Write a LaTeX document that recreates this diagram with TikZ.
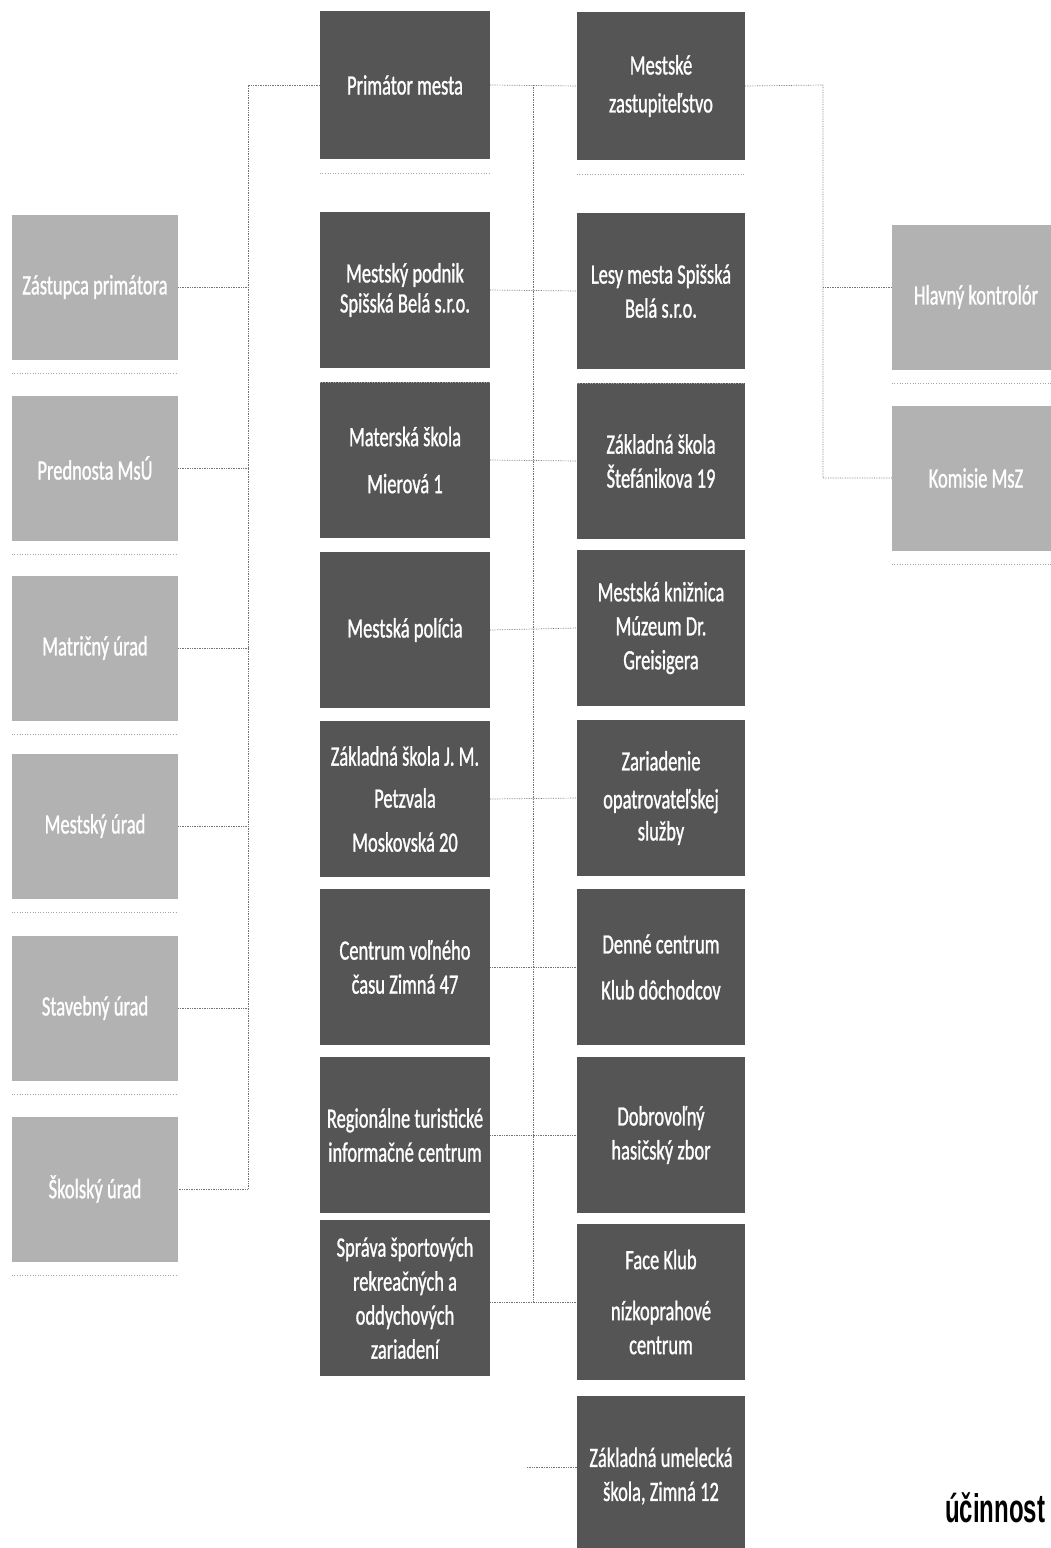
\documentclass[tikz,border=0pt]{standalone}
\usepackage{fontspec}
\setmainfont{Carlito}
\newfontfamily\boxfont[FakeStretch=0.66,FakeBold=1]{Carlito}
\newfontfamily\notefont[FakeStretch=0.6]{Liberation Sans}
\usepackage{tikz}
\usetikzlibrary{calc,positioning}
\definecolor{darkfill}{HTML}{555555}
\definecolor{lightfill}{HTML}{B2B2B2}
\tikzstyle{darkbox}   = [rectangle, fill=darkfill, text=white, minimum width=170pt, minimum height=156pt, inner sep=0pt, align=center, font=\boxfont\fontsize{28}{34}\selectfont]
\tikzstyle{lightbox}  = [rectangle, fill=lightfill, text=white, minimum width=166pt, minimum height=145pt, inner sep=0pt, align=center, font=\boxfont\fontsize{28}{34}\selectfont]
\tikzstyle{link}      = [densely dotted, black!55, line width=0.7pt]
\tikzstyle{shade}     = [dotted, black!35, line width=0.6pt]

\begin{document}
\begin{tikzpicture}[x=1pt,y=-1pt]
		\useasboundingbox (0,0) rectangle (1051,1548);

		% top
		\node[darkbox, minimum height=148pt] (prim) at (405,85) {Primátor mesta};
		\node[darkbox, minimum width=168pt, minimum height=148pt] (msz) at (661,86) {Mestské\\[4pt]zastupiteľstvo};

		% left column
		\node[lightbox] (zast) at (95,287) {Zástupca primátora};
		\node[lightbox] (pred) at (95,468) {Prednosta MsÚ};
		\node[lightbox] (matr) at (95,648) {Matričný úrad};
		\node[lightbox] (mest) at (95,826) {Mestský úrad};
		\node[lightbox] (stav) at (95,1008) {Stavebný úrad};
		\node[lightbox] (skol) at (95,1189) {Školský úrad};

		% middle columns
		\node[darkbox] (podn) at (405,290) {Mestský podnik\\[-4pt]Spišská Belá s.r.o.};
		\node[darkbox] (mats) at (405,460) {Materská škola\\[13pt]Mierová 1};
		\node[darkbox] (poli) at (405,630) {Mestská polícia};
		\node[darkbox] (zspe) at (405,799) {Základná škola J. M.\\[8pt]Petzvala\\[10pt]Moskovská 20};
		\node[darkbox] (cvc)  at (405,967) {Centrum voľného\\času Zimná 47};
		\node[darkbox] (ritc) at (405,1135) {Regionálne turistické\\informačné centrum};
		\node[darkbox] (sprs) at (405,1298) {Správa športových\\rekreačných a\\oddychových\\zariadení};

		\node[darkbox, minimum width=168pt] (lesy) at (661,291) {Lesy mesta Spišská\\Belá s.r.o.};
		\node[darkbox, minimum width=168pt] (zsst) at (661,461) {Základná škola\\Štefánikova 19};
		\node[darkbox, minimum width=168pt] (kniz) at (661,628) {Mestská knižnica\\Múzeum Dr.\\Greisigera};
		\node[darkbox, minimum width=168pt] (zos)  at (661,798) {Zariadenie\\[4pt]opatrovateľskej\\[-2pt]služby};
		\node[darkbox, minimum width=168pt] (denc) at (661,967) {Denné centrum\\[12pt]Klub dôchodcov};
		\node[darkbox, minimum width=168pt] (dhz)  at (661,1135) {Dobrovoľný\\hasičský zbor};
		\node[darkbox, minimum width=168pt] (face) at (661,1302) {Face Klub\\[17pt]nízkoprahové\\centrum};
		\node[darkbox, minimum width=168pt, minimum height=160pt] (zus) at (661,1476) {Základná umelecká\\škola, Zimná 12};

		% right column
		\node[lightbox, minimum width=168pt] (hlk) at (976,297) {Hlavný kontrolór};
		\node[lightbox, minimum width=168pt] (kom) at (976,478) {Komisie MsZ};

		\node[anchor=base west, inner sep=0pt, font=\notefont\bfseries\fontsize{40}{40}\selectfont] (ucin) at (945,1522) {účinnost};

		% connectors
		\coordinate (ltop) at (248,85);
		\coordinate (mtop) at (533,85);
		\coordinate (rtop) at (823,85);
		\coordinate (hlkin) at ([yshift=10pt]hlk.west);
		\coordinate (zusstub) at (527,1467);

		\draw[link] (prim.east) -- (msz.west);
		\draw[link] (prim.west) -- (ltop) -- (ltop |- skol.east) -- (skol.east);
		\foreach \n in {zast,pred,matr,mest,stav}
			\draw[link] (\n.east) -- (ltop |- \n.east);

		\draw[link] (msz.east) -- (rtop) -- (rtop |- kom.west) -- (kom.west);
		\draw[link] (hlkin) -- (rtop |- hlkin);

		\draw[link] (mtop) -- (mtop |- face.west);
		\draw[link] (podn.east) -- (lesy.west);
		\draw[link] (mats.east) -- (zsst.west);
		\draw[link] (poli.east) -- (kniz.west);
		\draw[link] (zspe.east) -- (zos.west);
		\draw[link] (cvc.east) -- (denc.west);
		\draw[link] (ritc.east) -- (dhz.west);
		\draw[link] (sprs.east |- face.west) -- (face.west);
		\draw[link] (zusstub) -- (zusstub -| zus.west);

		% shadow lines under the boxes
		\foreach \n in {prim,msz,podn,lesy,zast,pred,matr,mest,stav,skol,hlk,kom}
			\draw[shade] ([yshift=-14pt]\n.south west) -- ([yshift=-14pt]\n.south east);
	\end{tikzpicture}
\end{document}
